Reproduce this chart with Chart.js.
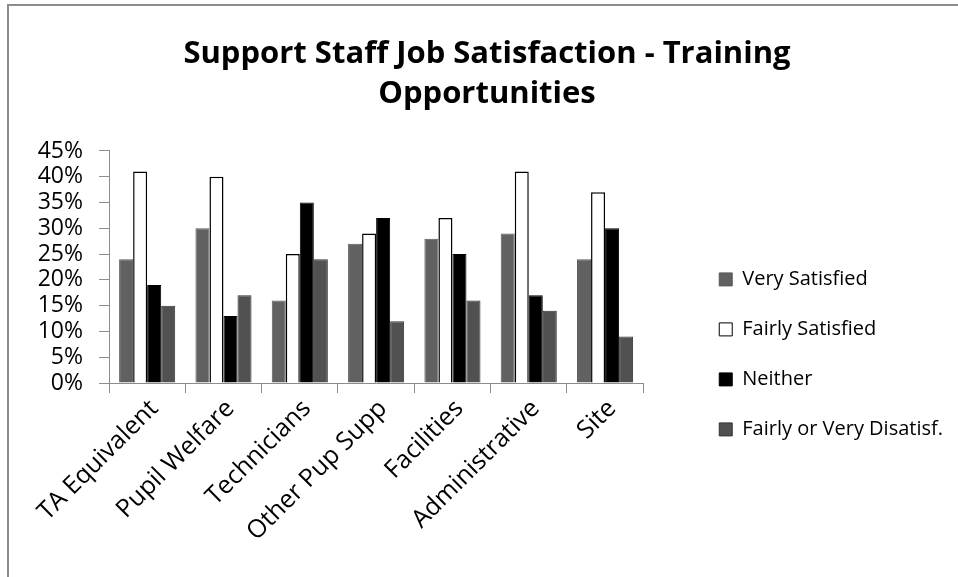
<!DOCTYPE html>
<html>
<head>
<meta charset="utf-8">
<script src="https://cdn.jsdelivr.net/npm/chart.js@4"></script>
<style>
  html, body { margin: 0; padding: 0; background: #fff; overflow: hidden; }
  #frame {
    position: absolute; left: 7px; top: 4px; width: 951px; height: 573px;
    border-left: 2px solid #8c8c8c; border-top: 2px solid #8c8c8c;
  }
  #chart { display: block; }
</style>
</head>
<body>
<div id="frame"><canvas id="chart" width="949" height="571"></canvas></div>
<script>
'use strict';
// categories and series (percent)
let categories = ['TA Equivalent', 'Pupil Welfare', 'Technicians', 'Other Pup Supp', 'Facilities', 'Administrative', 'Site'];
let verySatisfied = [24, 30, 16, 27, 28, 29, 24];
let fairlySatisfied = [41, 40, 25, 29, 32, 41, 37];
let neither = [19, 13, 35, 32, 25, 17, 30];
let disatisfied = [15, 17, 24, 12, 16, 14, 9];
let seriesNames = ['Very Satisfied', 'Fairly Satisfied', 'Neither', 'Fairly or Very Disatisf.'];
let yTicks = [0, 5, 10, 15, 20, 25, 30, 35, 40, 45];

let fontName = '"Open Sans", Lato, sans-serif';
let axisGrey = '#8c8c8c';

function makeSet(label, data, fill, border, width) {
  return {
    label: label,
    data: data,
    backgroundColor: fill,
    borderColor: border,
    borderWidth: width,
    categoryPercentage: 0.735,
    barPercentage: 1
  };
}

new Chart(document.getElementById('chart'), {
  type: 'bar',
  data: {
    labels: categories,
    datasets: [
      makeSet(seriesNames[0], verySatisfied, '#616161', '#595959', 1),
      makeSet(seriesNames[1], fairlySatisfied, '#ffffff', '#000000', 1.5),
      makeSet(seriesNames[2], neither, '#000000', '#000000', 1),
      makeSet(seriesNames[3], disatisfied, '#515151', '#333333', 1)
    ]
  },
  options: {
    responsive: false,
    animation: false,
    layout: { padding: { left: 12, right: 5, top: 0, bottom: 0 } },
    plugins: {
      title: {
        display: true,
        text: ['Support Staff Job Satisfaction - Training', 'Opportunities'],
        color: '#000',
        font: { family: fontName, size: 31, weight: 'bold', lineHeight: 1.29 },
        padding: { top: 28, bottom: 37 }
      },
      legend: {
        position: 'right',
        align: 'start',
        maxWidth: 400,
        // empty legend title only used to push the entries down
        title: { display: true, text: '', font: { size: 12, lineHeight: 1.2 }, padding: { top: 219, bottom: 0 } },
        labels: {
          color: '#000',
          font: { family: fontName, size: 20 },
          boxWidth: 13,
          boxHeight: 13,
          padding: 30,
          generateLabels: function(chart) {
            return chart.data.datasets.map(function(ds, i) {
              return {
                text: ds.label,
                fillStyle: ds.backgroundColor,
                strokeStyle: ds.borderColor,
                lineWidth: 1,
                fontColor: '#000',
                datasetIndex: i
              };
            });
          }
        }
      },
      tooltip: { enabled: false }
    },
    scales: {
      x: {
        grid: { display: true, drawOnChartArea: false, offset: true, color: axisGrey, tickLength: 10 },
        border: { display: true, color: axisGrey, width: 1 },
        ticks: {
          color: '#000',
          font: { family: fontName, size: 25 },
          minRotation: 45,
          maxRotation: 45,
          labelOffset: 7,
          padding: 1
        },
        afterFit: function(scale) { scale.height = 194; }
      },
      y: {
        min: 0,
        max: 45,
        afterBuildTicks: function(scale) {
          scale.ticks = yTicks.map(function(v) { return { value: v }; });
        },
        grid: { display: true, drawOnChartArea: false, color: axisGrey, tickLength: 10 },
        border: { display: true, color: axisGrey, width: 1 },
        ticks: {
          color: '#000',
          font: { family: fontName, size: 23 },
          padding: 16,
          autoSkip: false,
          callback: function(v) { return v + '%'; }
        },
        afterFit: function(scale) { scale.width = 88; }
      },
      gap: {
        type: 'linear',
        position: 'right',
        display: true,
        grid: { display: false },
        border: { display: false },
        ticks: { display: false },
        afterFit: function(scale) { scale.width = 46; }
      }
    }
  }
});
</script>
</body>
</html>
